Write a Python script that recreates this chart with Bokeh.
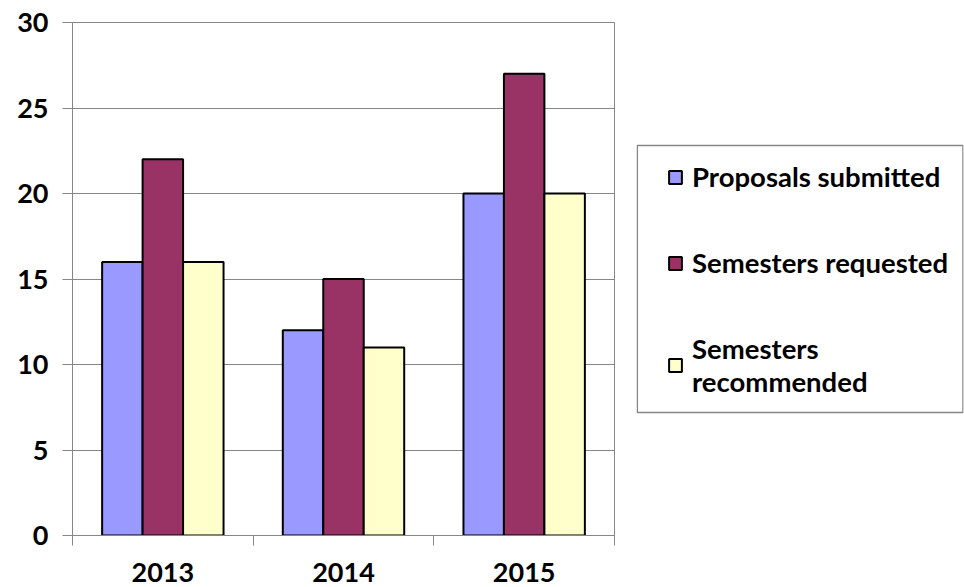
from bokeh.plotting import figure
from bokeh.layouts import row
from bokeh.models import (Range1d, FixedTicker, Legend, LegendItem, ColumnDataSource, BoxAnnotation)
from bokeh.embed import file_html
from bokeh.resources import INLINE

years = ["2013", "2014", "2015"]
proposals_submitted = [16, 12, 20]
semesters_requested = [22, 15, 27]
semesters_recommended = [16, 11, 20]
series_names = ["Proposals submitted", "Semesters requested", "Semesters\nrecommended"]
colors = ["#9999FF", "#993366", "#FFFFCC"]

FONT = "Lato"
GRAY = "#868686"
W = 0.224
centers = [i + 0.5 for i in range(len(years))]
series = [proposals_submitted, semesters_requested, semesters_recommended]

BORDERS = dict(min_border_top=22, min_border_bottom=52)

p = figure(width=636, height=587, output_backend="svg", toolbar_location=None,
           x_range=Range1d(0, len(years)), y_range=Range1d(0, 30),
           min_border_left=72, min_border_right=22, **BORDERS)
p.background_fill_color = "white"
p.border_fill_color = "white"
p.outline_line_color = GRAY
p.outline_line_width = 1

# legend panel figure; its ranges map 1:1 to pixels of its frame
q = figure(width=328, height=587, output_backend="svg", toolbar_location=None,
           x_range=Range1d(0, 327), y_range=Range1d(0, 513),
           x_axis_type=None, y_axis_type=None,
           min_border_left=0, min_border_right=1, **BORDERS)
q.outline_line_color = None
q.xgrid.grid_line_color = None
q.ygrid.grid_line_color = None
q.add_layout(BoxAnnotation(left=0.8, right=326.5, bottom=123, top=390,
                           fill_alpha=0, line_color=GRAY, line_width=1.5, line_alpha=1))

items = []
for k, (vals, name, col) in enumerate(zip(series, series_names, colors)):
    xs = [c + (k - 1) * W for c in centers]
    src = ColumnDataSource(dict(x=xs, top=vals))
    p.vbar(x="x", top="top", width=W, bottom=0, source=src, fill_color=col,
           line_color="black", line_width=2)
    r2 = q.vbar(x="x", top="top", width=W, bottom=0, source=src, fill_color=col,
                line_color="black", line_width=2)
    r2.visible = False
    items.append(LegendItem(label=name, renderers=[r2]))

# axes
xa = p.xaxis[0]
xa.ticker = FixedTicker(ticks=centers, minor_ticks=[0, 1, 2, 3])
xa.major_label_overrides = {c: y for c, y in zip(centers, years)}
xa.major_tick_out = 0
xa.major_tick_in = 0
xa.minor_tick_out = 10
xa.minor_tick_in = 0
xa.minor_tick_line_color = GRAY
xa.axis_line_color = GRAY
xa.major_label_text_font = FONT
xa.major_label_text_font_style = "bold"
xa.major_label_text_font_size = "27px"
xa.major_label_text_color = "black"
xa.major_label_standoff = 17

ya = p.yaxis[0]
ya.ticker = FixedTicker(ticks=[0, 5, 10, 15, 20, 25, 30], minor_ticks=[])
ya.major_tick_out = 10
ya.major_tick_in = 0
ya.major_tick_line_color = GRAY
ya.axis_line_color = GRAY
ya.major_label_text_font = FONT
ya.major_label_text_font_style = "bold"
ya.major_label_text_font_size = "27px"
ya.major_label_text_color = "black"
ya.major_label_standoff = 14

p.xgrid.grid_line_color = None
p.ygrid.grid_line_color = GRAY
p.ygrid.grid_line_width = 1

legend = Legend(items=items, location=(31, 137), orientation="vertical", click_policy="none")
legend.label_text_font = FONT
legend.label_text_font_style = "bold"
legend.label_text_font_size = "27.5px"
legend.label_text_color = "black"
legend.label_text_line_height = 1.38
legend.glyph_width = 16
legend.glyph_height = 16
legend.label_standoff = 9
legend.spacing = 53
legend.padding = 0
legend.margin = 0
legend.border_line_color = None
legend.background_fill_alpha = 0
q.add_layout(legend, "center")

layout = row(p, q, spacing=0)
open("out.html", "w").write(file_html(layout, INLINE))
